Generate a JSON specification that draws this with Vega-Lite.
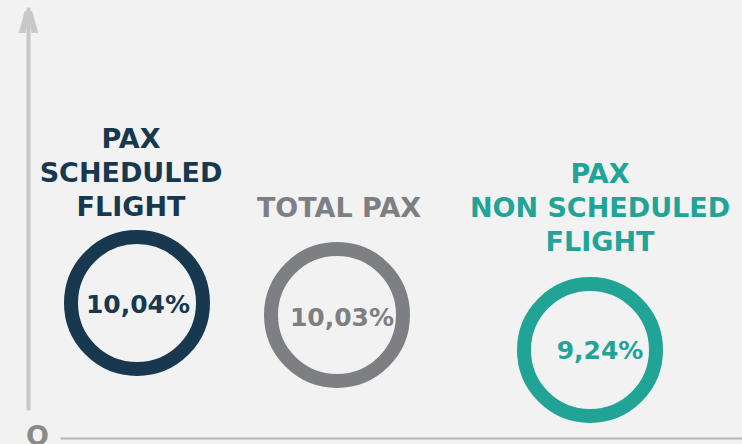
{
  "$schema": "https://vega.github.io/schema/vega-lite/v6.json",
  "width": 742,
  "height": 444,
  "autosize": {"type": "none"},
  "padding": 0,
  "background": "#f2f2f2",
  "config": {
    "view": {"stroke": null},
    "font": "DejaVu Sans",
    "locale": {"number": {"decimal": ",", "thousands": ".", "grouping": [3], "currency": ["", " €"]}}
  },
  "layer": [
    {
      "data": {"values": [{}]},
      "mark": {"type": "point", "opacity": 0},
      "encoding": {
        "x": {
          "datum": 0, "type": "quantitative",
          "scale": {"domain": [0, 1], "range": [60, 742], "nice": false, "zero": false},
          "axis": {
            "orient": "bottom", "offset": -6, "domain": true, "domainColor": "#b4b4b4", "domainWidth": 2,
            "ticks": false, "labels": false, "grid": false,
            "title": "O", "titleX": 37, "titleY": -2, "titleAlign": "center", "titleBaseline": "middle",
            "titleFontSize": 27, "titleFontWeight": "bold", "titleColor": "#8a8a8a"
          }
        },
        "y": {
          "datum": 0, "type": "quantitative",
          "scale": {"domain": [0, 1], "range": [410, 7], "nice": false, "zero": false},
          "axis": {
            "orient": "left", "offset": -28, "domain": true, "domainColor": "#c8c8c8", "domainWidth": 4,
            "ticks": false, "labels": false, "grid": false,
            "title": "∧", "titleX": 0, "titleY": 2, "titleAngle": 0, "titleAlign": "center", "titleBaseline": "top",
            "titleFontSize": 38, "titleFontWeight": "bold", "titleColor": "#c8c8c8"
          }
        }
      }
    },
    {
      "data": {
        "values": [
          {"segment": "PAX\nSCHEDULED\nFLIGHT", "growth": 0.1004},
          {"segment": "TOTAL PAX", "growth": 0.1003},
          {"segment": "PAX\nNON SCHEDULED\nFLIGHT", "growth": 0.0924}
        ]
      },
      "encoding": {
        "color": {
          "field": "segment", "type": "nominal",
          "scale": {"domain": ["PAX\nSCHEDULED\nFLIGHT", "TOTAL PAX", "PAX\nNON SCHEDULED\nFLIGHT"], "range": ["#17384f", "#7e7f83", "#21a496"]},
          "legend": null
        }
      },
      "layer": [
        {
          "mark": {"type": "point", "shape": "circle", "filled": false, "size": 17424, "strokeWidth": 14, "opacity": 1},
          "encoding": {
            "x": {"field": "growth", "type": "quantitative", "scale": {"domain": [0.0924, 0.1003, 0.1004], "range": [590, 337, 137], "nice": false, "zero": false}, "axis": null},
            "y": {"field": "growth", "type": "quantitative", "scale": {"domain": [0.0924, 0.1003, 0.1004], "range": [350, 315, 303], "nice": false, "zero": false}, "axis": null}
          }
        },
        {
          "mark": {"type": "text", "font": "DejaVu Sans", "fontWeight": "bold", "fontSize": 25, "align": "center", "baseline": "middle"},
          "encoding": {
            "x": {"field": "growth", "type": "quantitative", "scale": {"domain": [0.0924, 0.1003, 0.1004], "range": [600, 342, 138], "nice": false, "zero": false}, "axis": null},
            "y": {"field": "growth", "type": "quantitative", "scale": {"domain": [0.0924, 0.1003, 0.1004], "range": [351, 318, 305], "nice": false, "zero": false}, "axis": null},
            "text": {"field": "growth", "type": "quantitative", "format": ".2%"}
          }
        },
        {
          "mark": {"type": "text", "font": "DejaVu Sans", "fontWeight": "bold", "fontSize": 27, "align": "center", "baseline": "alphabetic", "lineBreak": "\n", "lineHeight": 34},
          "encoding": {
            "x": {"field": "growth", "type": "quantitative", "scale": {"domain": [0.0924, 0.1003, 0.1004], "range": [600, 339, 131], "nice": false, "zero": false}, "axis": null},
            "y": {"field": "growth", "type": "quantitative", "scale": {"domain": [0.0924, 0.1003, 0.1004], "range": [183, 217, 148], "nice": false, "zero": false}, "axis": null},
            "text": {"field": "segment", "type": "nominal"}
          }
        }
      ],
      "resolve": {"scale": {"x": "independent", "y": "independent"}, "axis": {"x": "independent", "y": "independent"}}
    }
  ],
  "resolve": {"scale": {"x": "independent", "y": "independent"}, "axis": {"x": "independent", "y": "independent"}}
}
